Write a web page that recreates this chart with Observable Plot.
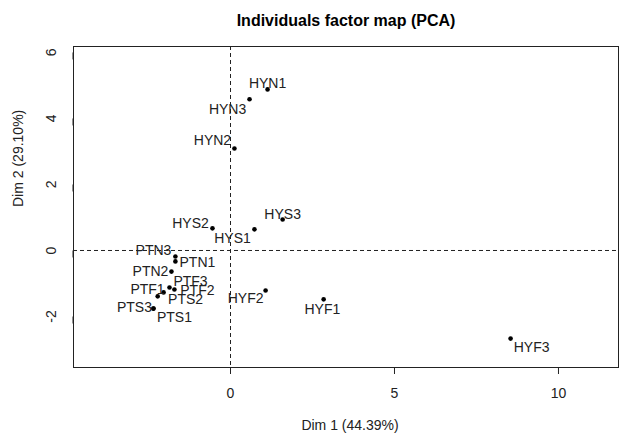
<!DOCTYPE html>
<html>
<head>
<meta charset="utf-8">
<script src="https://cdn.jsdelivr.net/npm/d3@7"></script>
<script src="https://cdn.jsdelivr.net/npm/@observablehq/plot@0.6"></script>
<style>
  html, body { margin: 0; padding: 0; background: #fff; }
  svg { display: block; }
</style>
</head>
<body>
<div id="chart"></div>
<script>
// Individuals (PCA coordinates)
const names = ["HYN1","HYN3","HYN2","HYS2","HYS1","HYS3","PTN3","PTN1","PTN2","PTF3","PTF2","PTF1","PTS2","PTS3","PTS1","HYF2","HYF1","HYF3"];
const dim1  = [1.13, 0.58, 0.12, -0.55, 0.73, 1.59, -1.68, -1.68, -1.80, -1.86, -1.71, -2.04, -2.22, -2.35, -2.35, 1.07, 2.84, 8.54];
const dim2  = [4.88, 4.58, 3.09, 0.67, 0.64, 0.94, -0.18, -0.33, -0.64, -1.12, -1.18, -1.27, -1.39, -1.76, -1.76, -1.21, -1.48, -2.67];
// Label anchors (data units, as placed by the label-repel routine)
const labX  = [1.13, -0.09, -0.55, -1.22, 0.06, 1.59, -2.35, -1.01, -2.44, -1.22, -1.01, -2.53, -1.37, -2.93, -1.71, 0.46, 2.80, 9.18];
const labY  = [5.06, 4.27, 3.33, 0.82, 0.36, 1.09, 0.00, -0.36, -0.64, -0.94, -1.21, -1.18, -1.48, -1.73, -2.03, -1.45, -1.79, -2.94];
const xTicks = [0, 5, 10];
const yTicks = [-2, 0, 2, 4, 6];
const title = "Individuals factor map (PCA)";
const xLabel = "Dim 1 (44.39%)";
const yLabel = "Dim 2 (29.10%)";

const pts = names.map((n, i) => ({name: n, x: dim1[i], y: dim2[i], lx: labX[i], ly: labY[i]}));

const font = "Liberation Sans, Arial, sans-serif";
const chart = Plot.plot({
  width: 619,
  height: 434,
  marginLeft: 73,
  marginRight: 1,
  marginTop: 46,
  marginBottom: 67,
  style: {fontFamily: font, fontSize: "14px", color: "#222", background: "#fff"},
  x: {domain: [-4.787, 11.83]},
  y: {domain: [-3.545, 6.18]},
  marks: [
    Plot.ruleX([0], {stroke: "#222", strokeDasharray: "4,3", strokeWidth: 1}),
    Plot.ruleY([0], {stroke: "#222", strokeDasharray: "4,3", strokeWidth: 1}),
    Plot.frame({stroke: "#222", strokeWidth: 1}),
    Plot.axisX({ticks: xTicks, tickSize: 7, tickPadding: 14, label: null, fontSize: 14, stroke: "#222", tickFormat: d => String(d)}),
    Plot.axisY({ticks: yTicks, tickSize: 7, tickPadding: 15, label: null, rotate: -90, textAnchor: "middle", fontSize: 14, stroke: "#222", tickFormat: d => String(d)}),
    Plot.dot(pts, {x: "x", y: "y", r: 2.3, fill: "#000", stroke: null}),
    Plot.text(pts, {x: "lx", y: "ly", text: "name", fontSize: 14, fill: "#222", textAnchor: "middle", lineAnchor: "middle"}),
    Plot.text([title], {frameAnchor: "top", dy: -26, text: d => d, fontSize: 16, fontWeight: "bold", fill: "#000", lineAnchor: "middle"}),
    Plot.text([xLabel], {frameAnchor: "bottom", dy: 58, dx: 4, text: d => d, fontSize: 14, fill: "#222", lineAnchor: "middle"}),
    Plot.text([yLabel], {frameAnchor: "left", dx: -55, text: d => d, fontSize: 14, fill: "#222", rotate: -90, lineAnchor: "middle"})
  ]
});
document.getElementById("chart").appendChild(chart);
</script>
</body>
</html>
